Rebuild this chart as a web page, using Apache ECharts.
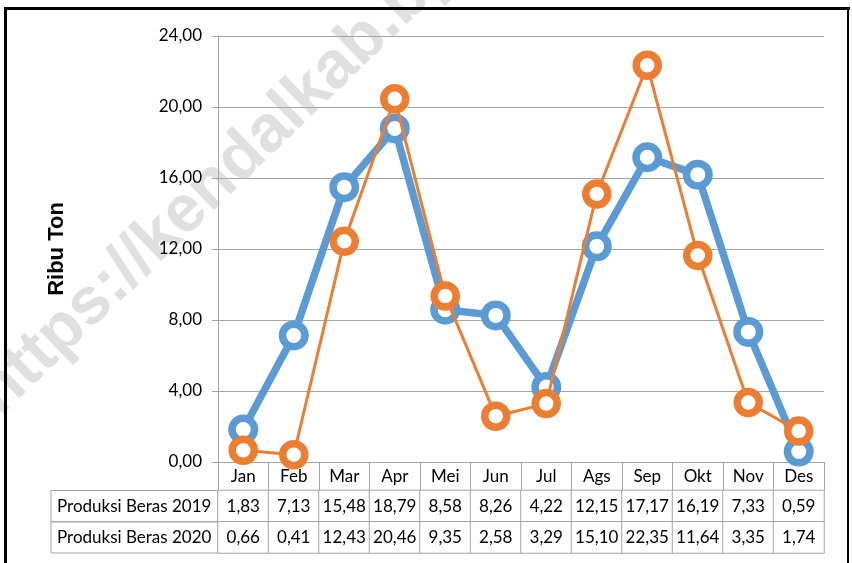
<!DOCTYPE html>
<html>
<head>
<meta charset="utf-8">
<script src="https://cdn.jsdelivr.net/npm/echarts@6/dist/echarts.min.js"></script>
<style>
html,body{margin:0;padding:0;background:#fff;}
#c{width:852px;height:563px;}
</style>
</head>
<body>
<div id="c"></div>
<script>
const categories = ['Jan','Feb','Mar','Apr','Mei','Jun','Jul','Ags','Sep','Okt','Nov','Des'];
const prod2019 = [1.83, 7.13, 15.48, 18.79, 8.58, 8.26, 4.22, 12.15, 17.17, 16.19, 7.33, 0.59];
const prod2020 = [0.66, 0.41, 12.43, 20.46, 9.35, 2.58, 3.29, 15.10, 22.35, 11.64, 3.35, 1.74];
const seriesNames = ['Produksi Beras 2019', 'Produksi Beras 2020'];
const yAxisName = 'Ribu Ton';
const yMin = 0, yMax = 24, yStep = 4;
const watermarkText = 'https://kendalkab.bps.go.id';

const fmt = v => Number(v).toFixed(2).replace('.', ',');
const FONT = 'Lato';
const GRAY = '#a6a6a6';
const BLUE = '#5B9BD5';
const ORANGE = '#ED7D31';

const tableRows = [prod2019, prod2020];
const tableData = [];
tableRows.forEach((row, r) => row.forEach((v, i) => tableData.push([i, r, v])));

const chart = echarts.init(document.getElementById('c'), null, {renderer: 'canvas'});
chart.setOption({
  animation: false,
  backgroundColor: '#fff',
  textStyle: {fontFamily: FONT},
  graphic: [
    {type: 'text', z: -10, x: -13, y: 404, rotation: 44 * Math.PI / 180,
     style: {text: watermarkText, font: 'bold 66px "Liberation Sans", Arial, sans-serif',
             fill: '#e0e0e0', align: 'left', verticalAlign: 'middle'}},
    {type: 'rect', z: 100, shape: {x: 4, y: 7, width: 3, height: 560}, style: {fill: '#000'}},
    {type: 'rect', z: 100, shape: {x: 4, y: 7, width: 846, height: 3}, style: {fill: '#000'}},
    {type: 'rect', z: 100, shape: {x: 847, y: 7, width: 2, height: 560}, style: {fill: '#000'}}
  ],
  grid: [
    {left: 218, right: 28, top: 36, height: 426},
    {left: 218, right: 28, top: 490.5, height: 62.5}
  ],
  xAxis: [
    {type: 'category', gridIndex: 0, data: categories, boundaryGap: true,
     axisLine: {lineStyle: {color: GRAY, width: 1}},
     axisTick: {show: true, interval: 0, length: 28.5, lineStyle: {color: GRAY}},
     axisLabel: {interval: 0, margin: 6, color: '#000', fontSize: 17, fontFamily: FONT},
     splitLine: {show: false}},
    {type: 'category', gridIndex: 1, data: categories, show: false}
  ],
  yAxis: [
    {type: 'value', gridIndex: 0, min: yMin, max: yMax, interval: yStep,
     name: yAxisName, nameLocation: 'middle', nameGap: 150,
     nameTextStyle: {fontFamily: '"Liberation Sans", Arial, sans-serif', fontWeight: 'bold', fontSize: 22, color: '#000'},
     axisLine: {show: true, lineStyle: {color: GRAY}},
     axisTick: {show: true, length: 6, lineStyle: {color: GRAY}},
     axisLabel: {margin: 16, color: '#000', fontSize: 17, fontFamily: FONT, formatter: v => fmt(v)},
     splitLine: {show: true, lineStyle: {color: GRAY, width: 1}}},
    {type: 'category', gridIndex: 1, data: seriesNames, inverse: true,
     axisLine: {show: false}, axisTick: {show: false}, splitLine: {show: false},
     axisLabel: {interval: 0, hideOverlap: false, margin: 167, align: 'left', color: '#000', fontSize: 17, fontFamily: FONT,
                 width: 161, lineHeight: 31.25, padding: [0, 0, 0, 6],
                 borderColor: GRAY, borderWidth: 1}}
  ],
  visualMap: [{show: false, seriesIndex: 2, min: 0, max: 100, inRange: {color: ['#ffffff', '#ffffff']}}],
  series: [
    {name: seriesNames[0], type: 'line', xAxisIndex: 0, yAxisIndex: 0, data: prod2019, z: 3,
     lineStyle: {color: BLUE, width: 7.5}, symbol: 'circle', symbolSize: 22.5,
     itemStyle: {color: '#fff', borderColor: BLUE, borderWidth: 7.5},
     emphasis: {disabled: true}},
    {name: seriesNames[1], type: 'line', xAxisIndex: 0, yAxisIndex: 0, data: prod2020, z: 4,
     lineStyle: {color: ORANGE, width: 3}, symbol: 'circle', symbolSize: 22,
     itemStyle: {color: '#fff', borderColor: ORANGE, borderWidth: 7.5},
     emphasis: {disabled: true}},
    {type: 'heatmap', xAxisIndex: 1, yAxisIndex: 1, data: tableData,
     itemStyle: {color: '#fff', borderColor: GRAY, borderWidth: 1},
     label: {show: true, color: '#000', fontSize: 17, fontFamily: FONT, formatter: p => fmt(p.value[2])},
     emphasis: {disabled: true}}
  ]
});
</script>
</body>
</html>
